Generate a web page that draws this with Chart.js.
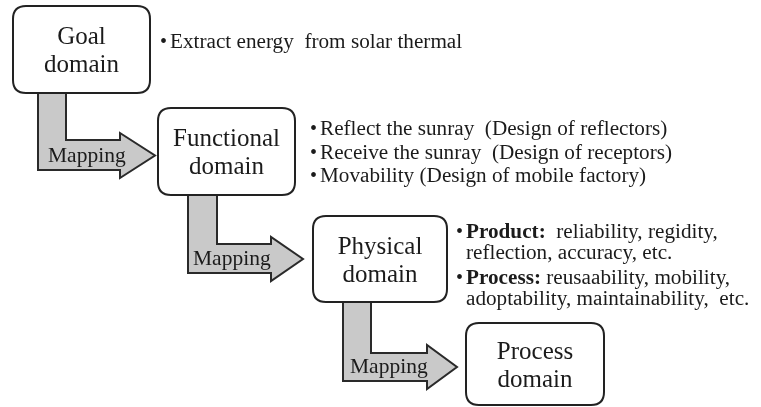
<!DOCTYPE html>
<html>
<head>
<meta charset="utf-8">
<script src="https://cdn.jsdelivr.net/npm/chart.js@4"></script>
<style>
  body { margin: 0; background: #fff; }
  #wrap { width: 761px; height: 407px; }
</style>
</head>
<body>
<div id="wrap"><canvas id="diagram" width="761" height="407"></canvas></div>
<script>
// domain names (boxes), top to bottom
const domains = [['Goal', 'domain'], ['Functional', 'domain'], ['Physical', 'domain'], ['Process', 'domain']]
const mappingLabel = 'Mapping'
// bullet notes next to each domain; each line is list of [text, bold]
const goalNotes = [[['Extract energy  from solar thermal', false]]]
const functionalNotes = [
  [['Reflect the sunray  (Design of reflectors)', false]],
  [['Receive the sunray  (Design of receptors)', false]],
  [['Movability (Design of mobile factory)', false]]
]
const physicalNotes = [
  [['Product:', true], ['  reliability, regidity,', false]],
  [['reflection, accuracy, etc.', false]],
  [['Process:', true], [' reusaability, mobility,', false]],
  [['adoptability, maintainability,  etc.', false]]
]

// layout in reference pixel units
const boxes = [
  { x0: 13, y0: 6, x1: 150, y1: 93 },
  { x0: 158, y0: 108, x1: 295, y1: 195 },
  { x0: 313, y0: 216, x1: 447, y1: 302 },
  { x0: 466, y0: 323, x1: 604, y1: 405 }
]
const arrows = [
  { sx0: 38, sx1: 66, top: 90, barTop: 140, barBot: 170, head: 120, headTop: 133, headBot: 178, tip: 155, lx: 48, ly: 156 },
  { sx0: 188, sx1: 217, top: 192, barTop: 244, barBot: 273, head: 271, headTop: 237, headBot: 281, tip: 303, lx: 193, ly: 259 },
  { sx0: 343, sx1: 371, top: 299, barTop: 353, barBot: 381, head: 427, headTop: 345, headBot: 389, tip: 457, lx: 350, ly: 367 }
]
const notes = [
  { lines: goalNotes, x: 160, y: 43, step: 24, bulletEvery: [0] },
  { lines: functionalNotes, x: 310, y: 130, step: 23.5, bulletEvery: [0, 1, 2] },
  { lines: physicalNotes, x: 456, y: 233, step: 21, extra: [0, 0, 4, 4], bulletEvery: [0, 2] }
]

const ink = '#1b1b1b'
const serif = '"Liberation Serif", "Times New Roman", serif'
const stretch = 1.06

function roundRect(ctx, x0, y0, x1, y1, r) {
  ctx.beginPath()
  ctx.moveTo(x0 + r, y0)
  ctx.lineTo(x1 - r, y0)
  ctx.quadraticCurveTo(x1, y0, x1, y0 + r)
  ctx.lineTo(x1, y1 - r)
  ctx.quadraticCurveTo(x1, y1, x1 - r, y1)
  ctx.lineTo(x0 + r, y1)
  ctx.quadraticCurveTo(x0, y1, x0, y1 - r)
  ctx.lineTo(x0, y0 + r)
  ctx.quadraticCurveTo(x0, y0, x0 + r, y0)
  ctx.closePath()
}

const diagramPlugin = {
  id: 'diagram',
  afterDatasetsDraw(chart) {
    const ctx = chart.ctx
    const sx = v => chart.scales.x.getPixelForValue(v)
    const sy = v => chart.scales.y.getPixelForValue(v)
    ctx.save()
    ctx.lineJoin = 'miter'

    // mapping arrows
    arrows.forEach(a => {
      const mid = (a.headTop + a.headBot) / 2
      ctx.beginPath()
      ctx.moveTo(sx(a.sx0), sy(a.top))
      ctx.lineTo(sx(a.sx0), sy(a.barBot))
      ctx.lineTo(sx(a.head), sy(a.barBot))
      ctx.lineTo(sx(a.head), sy(a.headBot))
      ctx.lineTo(sx(a.tip), sy(mid))
      ctx.lineTo(sx(a.head), sy(a.headTop))
      ctx.lineTo(sx(a.head), sy(a.barTop))
      ctx.lineTo(sx(a.sx1), sy(a.barTop))
      ctx.lineTo(sx(a.sx1), sy(a.top))
      ctx.closePath()
      ctx.fillStyle = '#c9c9c9'
      ctx.fill()
      ctx.lineWidth = 2
      ctx.strokeStyle = '#2a2a2a'
      ctx.stroke()
      ctx.fillStyle = ink
      ctx.font = '21.5px ' + serif
      ctx.textAlign = 'left'
      ctx.textBaseline = 'middle'
      ctx.fillText(mappingLabel, sx(a.lx), sy(a.ly))
    })

    // domain boxes
    boxes.forEach((b, i) => {
      roundRect(ctx, sx(b.x0), sy(b.y0), sx(b.x1), sy(b.y1), 13)
      ctx.fillStyle = '#fff'
      ctx.fill()
      ctx.lineWidth = 2
      ctx.strokeStyle = '#222'
      ctx.stroke()
      ctx.fillStyle = ink
      ctx.font = '25px ' + serif
      ctx.textAlign = 'center'
      ctx.textBaseline = 'middle'
      const cx = sx((b.x0 + b.x1) / 2)
      const cy = sy((b.y0 + b.y1) / 2) + 2
      ctx.fillText(domains[i][0], cx, cy - 14)
      ctx.fillText(domains[i][1], cx, cy + 14)
    })

    // bullet notes
    ctx.textAlign = 'left'
    ctx.textBaseline = 'middle'
    notes.forEach(n => {
      n.lines.forEach((line, li) => {
        const y = sy(n.y + li * n.step + (n.extra ? n.extra[li] : 0))
        let x = sx(n.x)
        ctx.fillStyle = ink
        if (n.bulletEvery.includes(li)) {
          ctx.font = '20px ' + serif
          ctx.fillText('\u2022', x, y)
        }
        x += 10
        line.forEach(([txt, bold]) => {
          ctx.font = (bold ? 'bold ' : '') + '20px ' + serif
          ctx.save()
          ctx.translate(x, y)
          ctx.scale(stretch, 1)
          ctx.fillText(txt, 0, 0)
          ctx.restore()
          x += ctx.measureText(txt).width * stretch
        })
      })
    })
    ctx.restore()
  }
}

new Chart(document.getElementById('diagram'), {
  type: 'scatter',
  data: { datasets: [{ data: [], pointRadius: 0 }] },
  options: {
    responsive: false,
    animation: false,
    layout: { padding: 0 },
    plugins: { legend: { display: false }, tooltip: { enabled: false } },
    scales: {
      x: { type: 'linear', min: 0, max: 761, display: false },
      y: { type: 'linear', min: 0, max: 407, reverse: true, display: false }
    }
  },
  plugins: [diagramPlugin]
})
</script>
</body>
</html>
